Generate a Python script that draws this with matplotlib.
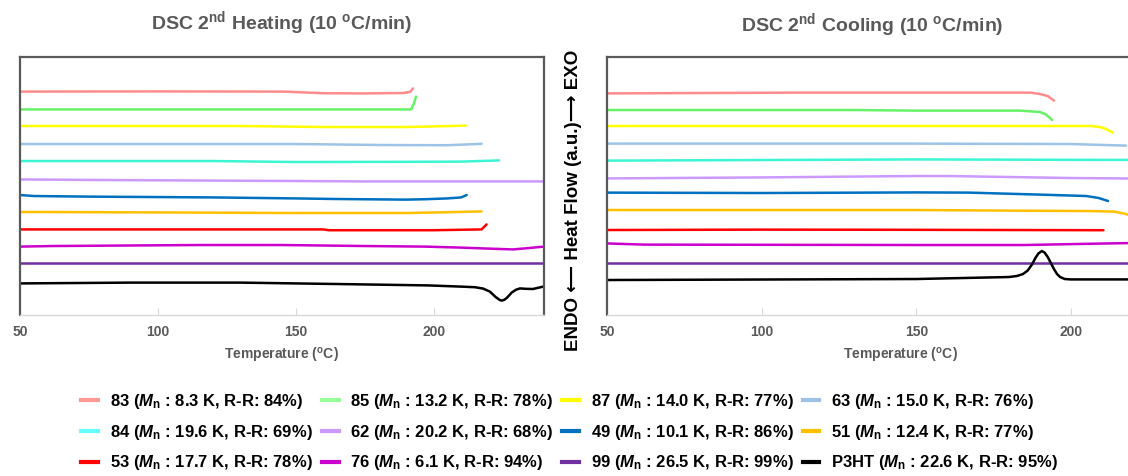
import matplotlib
matplotlib.use("Agg")
import matplotlib.pyplot as plt

# heat flow (a.u., curves offset) as (temperature, value)
heat_83 = [(50, 11.17), (100, 11.18), (146, 11.17), (160, 11.09), (175, 11.08), (189, 11.10), (191.5, 11.16), (192.5, 11.33)]
heat_85 = [(50, 10.28), (120, 10.28), (191.8, 10.28), (192.8, 10.55), (193.6, 10.92)]
heat_87 = [(50, 9.45), (130, 9.45), (160, 9.40), (190, 9.40), (200, 9.43), (211.7, 9.47)]
heat_63 = [(50, 8.55), (150, 8.55), (182, 8.50), (205, 8.49), (217.4, 8.56)]
heat_84 = [(50, 7.70), (120, 7.70), (150, 7.65), (190, 7.66), (210, 7.67), (223.7, 7.73)]
heat_62 = [(50, 6.78), (80, 6.75), (150, 6.70), (175, 6.68), (200, 6.68), (240, 6.68)]
heat_49 = [(50, 6.0), (55, 5.95), (75, 5.92), (120, 5.88), (150, 5.83), (165, 5.80), (190, 5.77),
           (197, 5.79), (205, 5.83), (210, 5.88), (212, 6.0)]
heat_51 = [(50, 5.15), (60, 5.15), (100, 5.13), (150, 5.10), (190, 5.10), (205, 5.14), (217.4, 5.18)]
heat_53 = [(50, 4.28), (160, 4.28), (162, 4.24), (200, 4.24), (217.4, 4.28), (219.2, 4.53)]
heat_76 = [(50, 3.42), (62, 3.45), (115, 3.50), (145, 3.50), (175, 3.45), (197, 3.42), (210, 3.37),
           (220, 3.32), (228.8, 3.28), (233, 3.33), (240, 3.42)]
heat_99 = [(50, 2.6), (240, 2.6)]
heat_p3ht = [(50, 1.58), (90, 1.62), (130, 1.62), (165, 1.55), (198, 1.48), (210, 1.42), (215, 1.39),
             (218, 1.32), (220.4, 1.17), (222.5, 0.9), (224, 0.75), (224.7, 0.72), (225.6, 0.76),
             (226.5, 0.85), (228.3, 1.12), (229.8, 1.26), (231.3, 1.33), (233.5, 1.31), (236, 1.30),
             (239.7, 1.42)]

cool_83 = [(50, 11.08), (110, 11.12), (187, 11.12), (190, 11.05), (192.5, 10.95), (194.5, 10.72)]
cool_85 = [(50, 10.25), (130, 10.25), (150, 10.22), (183.5, 10.22), (190, 10.15), (192, 10.02), (193.9, 9.75)]
cool_87 = [(50, 9.45), (150, 9.45), (207, 9.45), (210, 9.38), (211.6, 9.28), (213.6, 9.12)]
cool_63 = [(50, 8.57), (150, 8.57), (200, 8.55), (217.8, 8.47)]
cool_84 = [(50, 7.72), (100, 7.75), (150, 7.78), (200, 7.76), (240, 7.75)]
cool_62 = [(50, 6.83), (100, 6.88), (150, 6.95), (160, 6.95), (200, 6.85), (240, 6.80)]
cool_49 = [(50, 6.12), (100, 6.10), (150, 6.13), (167, 6.12), (190, 6.02), (205, 5.95), (209, 5.85), (212, 5.70)]
cool_51 = [(50, 5.25), (150, 5.25), (180, 5.22), (205, 5.20), (214, 5.17), (217, 5.08), (221, 4.9)]
cool_53 = [(50, 4.25), (100, 4.27), (150, 4.26), (210.5, 4.24)]
cool_76 = [(50, 3.58), (62, 3.52), (150, 3.50), (185, 3.50), (205, 3.56), (220, 3.60), (240, 3.60)]
cool_99 = [(50, 2.6), (240, 2.6)]
cool_p3ht = [(50, 1.75), (150, 1.80), (180, 1.90), (182.5, 1.95), (184.5, 2.05), (186, 2.22), (187.5, 2.55),
             (188.5, 2.85), (189.5, 3.08), (190.6, 3.2), (191.5, 3.12), (192.5, 2.9), (193.5, 2.6),
             (194.5, 2.3), (195.5, 2.05), (196.5, 1.9), (198, 1.8), (200, 1.78), (240, 1.78)]

labels = ['83 ($M_{\\rm n}$ : 8.3 K, R-R: 84%)', '85 ($M_{\\rm n}$ : 13.2 K, R-R: 78%)',
          '87 ($M_{\\rm n}$ : 14.0 K, R-R: 77%)', '63 ($M_{\\rm n}$ : 15.0 K, R-R: 76%)',
          '84 ($M_{\\rm n}$ : 19.6 K, R-R: 69%)', '62 ($M_{\\rm n}$ : 20.2 K, R-R: 68%)',
          '49 ($M_{\\rm n}$ : 10.1 K, R-R: 86%)', '51 ($M_{\\rm n}$ : 12.4 K, R-R: 77%)',
          '53 ($M_{\\rm n}$ : 17.7 K, R-R: 78%)', '76 ($M_{\\rm n}$ : 6.1 K, R-R: 94%)',
          '99 ($M_{\\rm n}$ : 26.5 K, R-R: 99%)', 'P3HT ($M_{\\rm n}$ : 22.6 K, R-R: 95%)']
heating = [heat_83, heat_85, heat_87, heat_63, heat_84, heat_62, heat_49, heat_51, heat_53, heat_76, heat_99, heat_p3ht]
cooling = [cool_83, cool_85, cool_87, cool_63, cool_84, cool_62, cool_49, cool_51, cool_53, cool_76, cool_99, cool_p3ht]
colors = ['#FF8C8C', '#66F266', '#FFFF00', '#9DC3E6', '#3CF5D2', '#CC99FF',
          '#0070C0', '#FFC000', '#FF0000', '#CC00CC', '#7030A0', '#000000']
legend_colors = ['#FF9999', '#99FF99', '#FFFF00', '#9DC3E6', '#66FFFF', '#CC99FF',
                 '#0070C0', '#FFC000', '#FF0000', '#CC00CC', '#7030A0', '#000000']

plt.rcParams['font.family'] = ['Liberation Sans', 'DejaVu Sans']
plt.rcParams['font.weight'] = 'bold'
plt.rcParams['axes.titleweight'] = 'bold'
plt.rcParams['axes.labelweight'] = 'bold'
plt.rcParams['mathtext.fontset'] = 'custom'
plt.rcParams['mathtext.rm'] = 'Liberation Sans:bold'
plt.rcParams['mathtext.it'] = 'Liberation Sans:italic:bold'
plt.rcParams['mathtext.bf'] = 'Liberation Sans:bold'

gray = '#595959'
deg = '$^{\\rm o}$'
fig = plt.figure(figsize=(11.28, 4.76), dpi=100)
ax1 = fig.add_axes([0.0177, 0.3382, 0.4645, 0.5420])
ax2 = fig.add_axes([0.5381, 0.3382, 0.5210, 0.5420])


def style(ax):
    ax.set_xlim(50, 240)
    ax.set_ylim(0, 12.9)
    ax.set_xticks([50, 100, 150, 200])
    ax.set_yticks([])
    for side in ['left', 'top', 'right']:
        ax.spines[side].set_color(gray)
        ax.spines[side].set_linewidth(1.6)
    ax.spines['bottom'].set_color('#D9D9D9')
    ax.spines['bottom'].set_linewidth(1.0)
    ax.tick_params(axis='x', direction='in', length=5, color='#D9D9D9',
                   labelsize=10, labelcolor=gray, pad=7)
    for lab in ax.get_xticklabels():
        lab.set_fontweight('bold')
    ax.set_xlabel('Temperature (' + deg + 'C)', fontsize=10, color=gray, labelpad=5)


for ax, curves in [(ax1, heating), (ax2, cooling)]:
    for pts, c in zip(curves, colors):
        t = [p[0] for p in pts]
        y = [p[1] for p in pts]
        ax.plot(t, y, color=c, lw=1.8, solid_joinstyle='round', solid_capstyle='round')
    style(ax)

ax1.set_title('DSC 2$^{\\rm nd}$ Heating (10 ' + deg + 'C/min)', fontsize=14, color=gray, pad=20)
fig.text(0.773, 0.947, 'DSC 2$^{\\rm nd}$ Cooling (10 ' + deg + 'C/min)', fontsize=14,
         color=gray, ha='center', va='center')
fig.text(0.508, 0.578, 'ENDO \u27f5 Heat Flow (a.u.)\u27f6 EXO', fontsize=13.5, rotation=90,
         ha='center', va='center', color='black')

# legend: 4 columns, filled row by row as in the figure
handles = [plt.Line2D([], [], color=c, lw=3) for c in legend_colors]
order = [0, 4, 8, 1, 5, 9, 2, 6, 10, 3, 7, 11]
fig.legend([handles[i] for i in order], [labels[i] for i in order], ncol=4, loc='center',
           bbox_to_anchor=(0.505, 0.092), frameon=False, fontsize=12, handlelength=1.0,
           handletextpad=0.7, columnspacing=0.56, labelspacing=0.7)

fig.savefig('out.png', dpi=100)
